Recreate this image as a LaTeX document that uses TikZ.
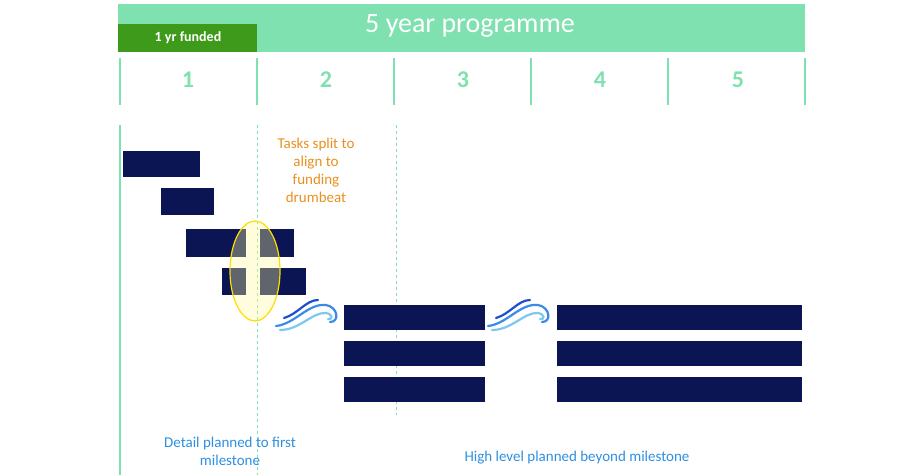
\documentclass[tikz,border=0pt]{standalone}
\usepackage{fontspec}
\setmainfont{Carlito}
\usetikzlibrary{shapes.geometric}
\begin{document}
\begin{tikzpicture}[x=1pt,y=-1pt,
  bar/.style={fill=navy,draw=none},
  tickline/.style={draw=mint,line width=1.2pt},
  guide/.style={draw=mint,dashed,line width=0.9pt},
  num/.style={text=mint,font=\bfseries\fontsize{24}{26}\selectfont},
  orangetxt/.style={text=orangeT,font=\fontsize{15}{18}\selectfont,align=center},
  bluetxt/.style={text=blueT,font=\fontsize{15}{18}\selectfont,align=center},
  wavestroke/.style={line width=2.2pt,line cap=round}]
\definecolor{navy}{HTML}{0B1554}
\definecolor{mint}{HTML}{7FE0B0}
\definecolor{dgreen}{HTML}{3E9A1A}
\definecolor{orangeT}{HTML}{E8901E}
\definecolor{blueT}{HTML}{2E8FE0}
\definecolor{w1}{HTML}{1F4FD0}
\definecolor{w2}{HTML}{3A8BE8}
\definecolor{w3}{HTML}{7EC8F0}
\useasboundingbox (0,0) rectangle (905,475);
% banner
\fill[mint] (118,4) rectangle (805,52);
\node (title) at (470,26) {\color{white}\fontsize{28}{30}\selectfont 5 year programme};
\fill[dgreen] (118,24) rectangle (257,52);
\node (funded) at (188,38) {\color{white}\bfseries\fontsize{14}{16}\selectfont 1 yr funded};
% ticks and numbers
\foreach \x in {120,257,394,531,668,805} \draw[tickline] (\x,58) -- (\x,105);
\foreach \n/\x in {1/188,2/326,3/463,4/600,5/738} \node[num] (n\n) at (\x,80) {\n};
% vertical guides
\draw[tickline] (120,125) -- (120,475);
\draw[guide] (257,125) -- (257,475);
\draw[guide] (396,125) -- (396,415);
% small bars
\fill[bar] (123,151) rectangle (200,177);
\fill[bar] (161,188) rectangle (214,215);
\fill[bar] (186,229) rectangle (246,257);
\fill[bar] (260,229) rectangle (294,257);
\fill[bar] (222,268) rectangle (246,295);
\fill[bar] (260,268) rectangle (306,295);
% ellipse
\node[draw=yellow!80!orange,line width=1.2pt,fill=yellow!40,fill opacity=0.35,ellipse,minimum width=50,minimum height=100,inner sep=0] (ell) at (255,271) {};
% big bars
\foreach \y in {305,341,377}{
  \fill[bar] (344,\y) rectangle (485,\y+25);
  \fill[bar] (557,\y) rectangle (802,\y+25);
}
% waves
\foreach \dx in {0,212}{
 \begin{scope}[shift={(\dx,0)}]
  \draw[wavestroke,w2] (276,326) .. controls (295,324) and (308,303) .. (326,305) .. controls (338,307) and (340,322) .. (330,322);
  \draw[wavestroke,w1] (284,318) .. controls (298,314) and (306,300) .. (318,300);
  \draw[wavestroke,w3] (280,330) .. controls (300,330) and (312,312) .. (326,313) .. controls (333,314) and (333,320) .. (328,319);
 \end{scope}
}
% texts
\node[orangetxt] (tasks) at (316,170) {Tasks split to\\align to\\funding\\drumbeat};
\node[bluetxt] (detail) at (230,451) {Detail planned to first\\milestone};
\node[bluetxt] (high) at (577,458) {High level planned beyond milestone};
\end{tikzpicture}
\end{document}
